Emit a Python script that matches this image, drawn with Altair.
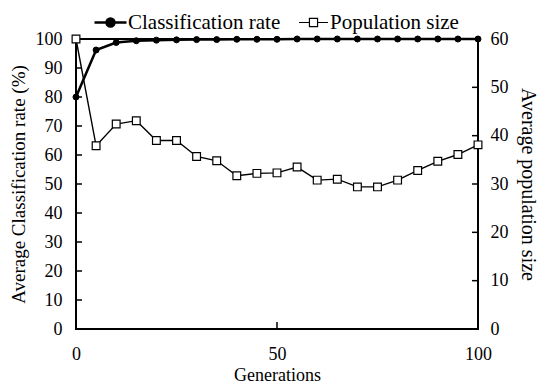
import altair as alt
import pandas as pd

generations = [0, 5, 10, 15, 20, 25, 30, 35, 40, 45, 50, 55, 60, 65, 70, 75, 80, 85, 90, 95, 100]
class_rate = [80, 96.2, 98.8, 99.4, 99.6, 99.7, 99.8, 99.8, 99.9, 99.9, 99.9, 100, 100, 100, 100, 100, 100, 100, 100, 100, 100]
pop_size = [60, 37.9, 42.4, 43.1, 39.0, 39.0, 35.7, 34.8, 31.7, 32.2, 32.3, 33.5, 30.8, 31.0, 29.4, 29.4, 30.8, 32.8, 34.7, 36.1, 38.1]
series_names = ["Classification rate", "Population size"]

left_ticks = [10, 20, 30, 40, 50, 60, 70, 80, 90]
right_ticks = [10, 20, 30, 40, 50]
x_ticks = [50]

df = pd.DataFrame({"gen": generations, "rate": class_rate, "pop": pop_size,
                   "s1": [series_names[0]] * len(generations),
                   "s2": [series_names[1]] * len(generations)})
lt = pd.DataFrame({"t": left_ticks})
rt = pd.DataFrame({"t": right_ticks})
xt = pd.DataFrame({"g": x_ticks})

W, H = 402, 290
FONT = "Liberation Serif"

xscale = alt.Scale(domain=[0, 100], nice=False, zero=False)
yl = alt.Scale(domain=[0, 100], nice=False)
yr = alt.Scale(domain=[0, 60], nice=False)

xaxis = alt.Axis(values=[0, 50, 100], tickSize=0, domain=False, grid=False,
                 labelPadding=16, labelFlush=False, title="Generations",
                 titleX=W / 2, titleY=51, titleBaseline="alphabetic",
                 labelFontSize=18, titleFontSize=18, labelColor="black",
                 titleColor="black", titleFontWeight="normal")
laxis = alt.Axis(values=list(range(0, 101, 10)), tickSize=0, domain=False, grid=False,
                 labelPadding=14, labelFlush=False, title="Average Classification rate (%)",
                 titleX=-52, titleY=H / 2, titleBaseline="alphabetic",
                 labelFontSize=18, titleFontSize=19,
                 labelColor="black", titleColor="black", titleFontWeight="normal")
raxis = alt.Axis(orient="right", values=list(range(0, 61, 10)), tickSize=0, domain=False,
                 grid=False, labelPadding=12, labelFlush=False, title="Average population size",
                 titleX=43, titleY=H / 2, titleBaseline="alphabetic",
                 labelFontSize=18, titleFontSize=20,
                 labelColor="black", titleColor="black", titleFontWeight="normal")

circ_path = "M-1,0L1,0M-0.25,0A0.25,0.25,0,1,0,0.25,0A0.25,0.25,0,1,0,-0.25,0Z"
sq_path = "M-1,0L-0.28,0M0.28,0L1,0M-0.28,-0.28L0.28,-0.28L0.28,0.28L-0.28,0.28Z"

base = alt.Chart(df)

class_line = base.mark_line(color="black", strokeWidth=2.5).encode(
    x=alt.X("gen:Q", scale=xscale, axis=xaxis),
    y=alt.Y("rate:Q", scale=yl, axis=laxis),
)
class_pts = base.mark_point(shape="circle", filled=True, size=36, opacity=1,
                            stroke="black", strokeWidth=1).encode(
    x=alt.X("gen:Q", scale=xscale, axis=xaxis),
    y=alt.Y("rate:Q", scale=yl, axis=laxis),
    fill=alt.Fill("s1:N", scale=alt.Scale(range=["black"]),
                  legend=alt.Legend(title=None, orient="none", legendX=17, legendY=-34,
                                    symbolType=circ_path, symbolSize=1024,
                                    symbolStrokeColor="black", symbolStrokeWidth=2.5,
                                    symbolFillColor="black",
                                    labelFont=FONT, labelFontSize=21, labelColor="black",
                                    labelOffset=0)),
)
lticks = alt.Chart(lt).mark_rule(color="black", strokeWidth=1.5).encode(
    y=alt.Y("t:Q", scale=yl, axis=laxis),
    x=alt.value(0), x2=alt.value(6),
)
xticks = alt.Chart(xt).mark_rule(color="black", strokeWidth=1.5).encode(
    x=alt.X("g:Q", scale=xscale, axis=xaxis),
    y=alt.value(H), y2=alt.value(H - 7),
)

pop_line = base.mark_line(color="black", strokeWidth=1.4).encode(
    x=alt.X("gen:Q", scale=xscale, axis=xaxis),
    y=alt.Y("pop:Q", scale=yr, axis=raxis),
)
pop_pts = base.mark_point(shape="square", filled=True, fill="white", size=60, opacity=1,
                          strokeWidth=1.2).encode(
    x=alt.X("gen:Q", scale=xscale, axis=xaxis),
    y=alt.Y("pop:Q", scale=yr, axis=raxis),
    stroke=alt.Stroke("s2:N", scale=alt.Scale(range=["black"]),
                      legend=alt.Legend(title=None, orient="none", legendX=222, legendY=-32,
                                        symbolType=sq_path, symbolSize=841,
                                        symbolStrokeColor="black", symbolStrokeWidth=1.2,
                                        symbolFillColor="white",
                                        labelFont=FONT, labelFontSize=21, labelColor="black",
                                        labelOffset=1)),
)
rticks = alt.Chart(rt).mark_rule(color="black", strokeWidth=1.5).encode(
    y=alt.Y("t:Q", scale=yr, axis=raxis),
    x=alt.value(W - 6), x2=alt.value(W),
)

left_layer = alt.layer(class_line, lticks, xticks, class_pts)
right_layer = alt.layer(pop_line, rticks, pop_pts)

chart = alt.layer(left_layer, right_layer).resolve_scale(
    y="independent", fill="independent", stroke="independent"
).properties(
    width=W, height=H,
    autosize=alt.AutoSizeParams(type="none"),
    padding={"left": 68, "top": 31, "right": 61, "bottom": 55},
).configure(
    font=FONT,
).configure_view(
    stroke="black", strokeWidth=2,
)

chart.save("out.html", embed_options={"renderer": "svg", "actions": False})
